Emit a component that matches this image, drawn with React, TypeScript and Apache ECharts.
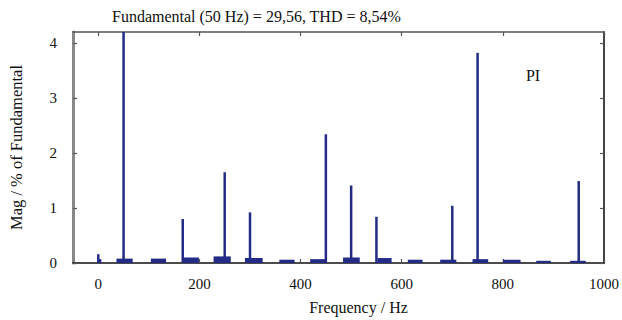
import React, { useEffect, useRef } from "react";
import * as echarts from "echarts";

const titleText = "Fundamental (50 Hz) = 29,56, THD = 8,54%";
const xTicks = [0, 200, 400, 600, 800, 1000];
const yTicks = [0, 1, 2, 3, 4];

// harmonic spikes: frequency (Hz) and magnitude (% of fundamental)
const spikeFreq = [0, 50, 167, 250, 300, 450, 500, 550, 700, 750, 950];
const spikeMag = [0.16, 100, 0.8, 1.65, 0.92, 2.34, 1.41, 0.84, 1.04, 3.82, 1.49];

// low-level noise clusters: start Hz, end Hz, magnitude
const noiseStart = [0, 36, 104, 167, 228, 290, 358, 419, 484, 552, 612, 676, 740, 800, 866, 933];
const noiseEnd = [6, 68, 134, 199, 262, 325, 388, 449, 517, 580, 641, 708, 771, 835, 895, 964];
const noiseMag = [0.07, 0.08, 0.08, 0.1, 0.12, 0.09, 0.06, 0.07, 0.1, 0.09, 0.06, 0.06, 0.07, 0.06, 0.04, 0.04];

const BLUE = "#232b86";
const FONT = "'Liberation Serif', 'Times New Roman', serif";

export default function App() {
  const ref = useRef<HTMLDivElement>(null);

  useEffect(() => {
    document.body.style.margin = "0";
    if (!ref.current) return;
    const chart = echarts.init(ref.current, undefined, { renderer: "svg" });

    const spikes = spikeFreq.map((f, i) => [f, spikeMag[i]]);
    const noise = noiseStart.map((s, i) => [s, noiseEnd[i], noiseMag[i]]);

    const tickStyle = { show: true, inside: true, length: 4, lineStyle: { color: "#555", width: 1.2 } };
    const plain = (v: number) => String(v);

    chart.setOption({
      animation: false,
      backgroundColor: "#fff",
      textStyle: { fontFamily: FONT },
      title: {
        text: titleText,
        left: 107,
        top: 3,
        textStyle: { fontFamily: FONT, fontSize: 16, fontWeight: "normal", color: "#111" },
      },
      graphic: [
        {
          type: "text",
          x: 533,
          y: 75,
          style: {
            text: "PI",
            fontFamily: FONT,
            fontSize: 16,
            fill: "#111",
            textAlign: "center",
            textVerticalAlign: "middle",
          },
        },
      ],
      grid: { left: 72, right: 11, top: 32, bottom: 52, containLabel: false },
      xAxis: [
        {
          type: "value",
          min: -50,
          max: 1000,
          position: "bottom",
          axisLine: { show: true, onZero: false, lineStyle: { color: "#111", width: 1.6 } },
          axisTick: { ...tickStyle, customValues: xTicks },
          axisLabel: {
            customValues: xTicks,
            formatter: plain,
            fontFamily: FONT,
            fontSize: 15,
            color: "#111",
            margin: 13,
          },
          splitLine: { show: false },
          name: "Frequency / Hz",
          nameLocation: "middle",
          nameGap: 36,
          nameTextStyle: { fontFamily: FONT, fontSize: 16, color: "#111", padding: [0, 0, 0, 40] },
        },
        {
          type: "value",
          min: -50,
          max: 1000,
          position: "top",
          axisLine: { show: true, onZero: false, lineStyle: { color: "#555", width: 1.6 } },
          axisTick: { ...tickStyle, customValues: xTicks },
          axisLabel: { show: false },
          splitLine: { show: false },
        },
      ],
      yAxis: [
        {
          type: "value",
          min: 0,
          max: 4.2,
          position: "left",
          axisLine: { show: true, onZero: false, lineStyle: { color: "#888", width: 3 } },
          axisTick: { ...tickStyle, customValues: yTicks },
          axisLabel: {
            customValues: yTicks,
            formatter: plain,
            fontFamily: FONT,
            fontSize: 15,
            color: "#111",
            margin: 16,
          },
          splitLine: { show: false },
          name: "Mag / % of Fundamental",
          nameLocation: "middle",
          nameGap: 48,
          nameTextStyle: { fontFamily: FONT, fontSize: 16.5, color: "#111" },
        },
        {
          type: "value",
          min: 0,
          max: 4.2,
          position: "right",
          axisLine: { show: true, onZero: false, lineStyle: { color: "#444", width: 2 } },
          axisTick: { ...tickStyle, customValues: yTicks },
          axisLabel: { show: false },
          splitLine: { show: false },
        },
      ],
      series: [
        {
          type: "custom",
          xAxisIndex: 0,
          yAxisIndex: 0,
          clip: true,
          encode: { x: [0, 1], y: 2 },
          data: noise,
          renderItem: (_params: any, api: any) => {
            const s = api.coord([api.value(0), api.value(2)]);
            const e = api.coord([api.value(1), 0]);
            return {
              type: "rect",
              shape: { x: s[0], y: s[1], width: e[0] - s[0], height: e[1] - s[1] },
              style: { fill: BLUE },
            };
          },
        },
        {
          type: "bar",
          xAxisIndex: 0,
          yAxisIndex: 0,
          data: spikes,
          barWidth: 2.5,
          clip: true,
          itemStyle: { color: BLUE },
        },
      ],
    });

    return () => chart.dispose();
  }, []);

  return <div ref={ref} style={{ width: 622, height: 320 }} />;
}
